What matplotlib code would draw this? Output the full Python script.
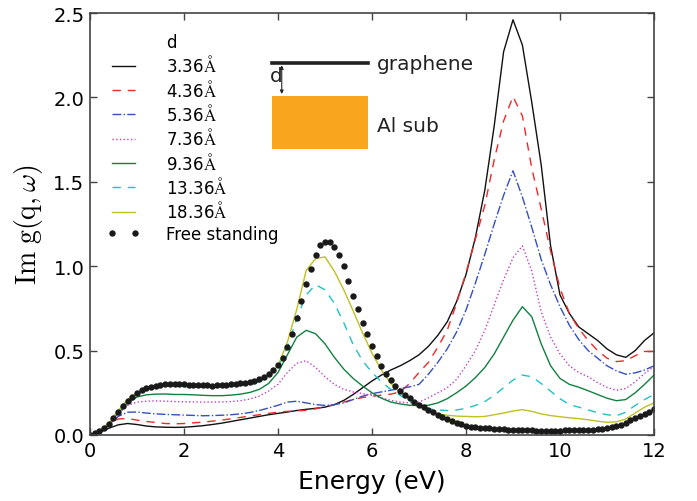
import numpy as np
import matplotlib
matplotlib.use("Agg")
import matplotlib.pyplot as plt
from matplotlib.patches import Rectangle

plt.rcParams["font.family"] = ["DejaVu Sans"]
plt.rcParams["mathtext.fontset"] = "cm"

# ── data ──────────────────────────────────────────────────────────────────────

energy = np.round(np.arange(0, 12.01, 0.2), 1)          # eV, curves
energy_fs = np.round(np.arange(0, 12.01, 0.1), 1)       # eV, free standing

g_336 = [0.0, 0.015, 0.04, 0.06, 0.068, 0.062, 0.053, 0.048, 0.046, 0.045,
         0.046, 0.05, 0.055, 0.062, 0.07, 0.08, 0.09, 0.1, 0.11, 0.12,
         0.128, 0.136, 0.145, 0.152, 0.158, 0.165, 0.18, 0.205, 0.24, 0.28,
         0.32, 0.355, 0.385, 0.41, 0.44, 0.475, 0.525, 0.59, 0.67, 0.79,
         0.95, 1.17, 1.45, 1.83, 2.27, 2.46, 2.31, 1.97, 1.6, 1.12,
         0.83, 0.72, 0.64, 0.6, 0.56, 0.51, 0.475, 0.46, 0.5, 0.56, 0.605]

g_436 = [0.0, 0.02, 0.055, 0.095, 0.098, 0.088, 0.08, 0.074, 0.068, 0.066,
         0.068, 0.072, 0.076, 0.082, 0.088, 0.096, 0.104, 0.112, 0.12, 0.128,
         0.135, 0.14, 0.143, 0.146, 0.155, 0.168, 0.18, 0.195, 0.21, 0.222,
         0.23, 0.236, 0.242, 0.255, 0.305, 0.37, 0.43, 0.52, 0.62, 0.78,
         0.96, 1.16, 1.36, 1.63, 1.86, 2.005, 1.89, 1.58, 1.34, 1.09,
         0.87, 0.72, 0.63, 0.56, 0.5, 0.455, 0.435, 0.44, 0.47, 0.495, 0.495]

g_536 = [0.0, 0.02, 0.06, 0.11, 0.135, 0.136, 0.13, 0.125, 0.122, 0.12,
         0.118, 0.116, 0.114, 0.115, 0.117, 0.12, 0.125, 0.133, 0.145, 0.16,
         0.176, 0.195, 0.2, 0.19, 0.18, 0.175, 0.18, 0.19, 0.21, 0.23,
         0.245, 0.255, 0.265, 0.275, 0.285, 0.3, 0.36, 0.43, 0.51, 0.61,
         0.74, 0.9, 1.07, 1.25, 1.42, 1.565, 1.41, 1.23, 1.04, 0.89,
         0.76, 0.65, 0.565, 0.5, 0.455, 0.41, 0.38, 0.36, 0.368, 0.385, 0.41]

g_736 = [0.0, 0.025, 0.065, 0.125, 0.175, 0.195, 0.2, 0.202, 0.2, 0.198,
         0.197, 0.196, 0.195, 0.195, 0.196, 0.198, 0.203, 0.213, 0.23, 0.26,
         0.3, 0.37, 0.425, 0.44, 0.4, 0.345, 0.3, 0.27, 0.255, 0.245,
         0.235, 0.22, 0.205, 0.195, 0.19, 0.195, 0.22, 0.25, 0.28, 0.33,
         0.41, 0.5, 0.62, 0.77, 0.92, 1.05, 1.12, 0.97, 0.73, 0.58,
         0.48, 0.41, 0.37, 0.345, 0.31, 0.282, 0.265, 0.275, 0.315, 0.365, 0.405]

g_936 = [0.0, 0.025, 0.065, 0.13, 0.19, 0.225, 0.238, 0.242, 0.243, 0.24,
         0.24, 0.238, 0.235, 0.233, 0.233, 0.236, 0.242, 0.252, 0.27, 0.305,
         0.37, 0.475, 0.58, 0.62, 0.6, 0.54, 0.46, 0.39, 0.335, 0.29,
         0.25, 0.218, 0.195, 0.184, 0.176, 0.174, 0.176, 0.19, 0.215, 0.25,
         0.29, 0.34, 0.4, 0.48, 0.58, 0.68, 0.76, 0.7, 0.54, 0.41,
         0.335, 0.3, 0.283, 0.262, 0.24, 0.218, 0.203, 0.21, 0.25, 0.3, 0.355]

g_1336 = [0.0, 0.025, 0.07, 0.145, 0.205, 0.245, 0.27, 0.283, 0.288, 0.29,
          0.287, 0.283, 0.283, 0.28, 0.282, 0.287, 0.293, 0.3, 0.315, 0.345,
          0.4, 0.52, 0.69, 0.83, 0.89, 0.86, 0.78, 0.665, 0.535, 0.44,
          0.37, 0.315, 0.27, 0.235, 0.2, 0.172, 0.155, 0.148, 0.145, 0.148,
          0.158, 0.175, 0.198, 0.235, 0.28, 0.325, 0.355, 0.345, 0.305, 0.26,
          0.215, 0.18, 0.165, 0.148, 0.132, 0.12, 0.114, 0.135, 0.175, 0.21, 0.24]

g_1836 = [0.0, 0.025, 0.07, 0.145, 0.21, 0.25, 0.28, 0.29, 0.297, 0.3,
          0.297, 0.293, 0.295, 0.29, 0.292, 0.297, 0.305, 0.31, 0.325, 0.355,
          0.41, 0.55, 0.745, 0.975, 1.045, 1.055, 0.97, 0.86, 0.735, 0.605,
          0.485, 0.385, 0.305, 0.255, 0.21, 0.175, 0.14, 0.125, 0.117, 0.112,
          0.11, 0.108, 0.11, 0.12, 0.13, 0.142, 0.15, 0.14, 0.125, 0.115,
          0.108, 0.102, 0.097, 0.09, 0.082, 0.075, 0.078, 0.095, 0.13, 0.165, 0.19]

g_free = [0.0, 0.01, 0.025, 0.04, 0.065, 0.1, 0.137, 0.172, 0.2, 0.228,
          0.247, 0.266, 0.28, 0.287, 0.292, 0.297, 0.3, 0.302, 0.303, 0.3,
          0.3, 0.298, 0.295, 0.297, 0.298, 0.295, 0.293, 0.295, 0.296, 0.298,
          0.3, 0.302, 0.306, 0.309, 0.312, 0.318, 0.33, 0.342, 0.36, 0.385,
          0.415, 0.455, 0.52, 0.6, 0.695, 0.795, 0.893, 0.983, 1.068, 1.125,
          1.145, 1.145, 1.115, 1.068, 1.0, 0.912, 0.825, 0.745, 0.665, 0.597,
          0.525, 0.47, 0.41, 0.361, 0.324, 0.292, 0.262, 0.239, 0.217, 0.197,
          0.18, 0.165, 0.148, 0.134, 0.12, 0.105, 0.092, 0.082, 0.072, 0.063,
          0.055, 0.05, 0.046, 0.043, 0.041, 0.039, 0.037, 0.036, 0.034, 0.032,
          0.031, 0.03, 0.029, 0.028, 0.027, 0.026, 0.026, 0.026, 0.026, 0.026,
          0.026, 0.027, 0.027, 0.027, 0.028, 0.029, 0.03, 0.032, 0.034, 0.037,
          0.041, 0.047, 0.054, 0.061, 0.072, 0.087, 0.1, 0.112, 0.124, 0.138,
          0.154]

labels = ["3.36", "4.36", "5.36", "7.36", "9.36", "13.36", "18.36"]
series = [g_336, g_436, g_536, g_736, g_936, g_1336, g_1836]

# colour / linestyle per separation
styles = [
    ("#111111", "-"),
    ("#f02828", (0, (6, 5))),
    ("#3450c0", "-."),
    ("#c040c0", ":"),
    ("#128040", "-"),
    ("#20c0c8", (0, (6, 5))),
    ("#c0c020", "-"),
]

# ── plot ──────────────────────────────────────────────────────────────────────

fig = plt.figure(figsize=(6.97, 5.02), dpi=100)
ax = fig.add_axes([0.1291, 0.1315, 0.8092, 0.8406])

ax.plot([], [], " ", label="d")
for lab, ys, (c, ls) in zip(labels, series, styles):
    ax.plot(energy, ys, color=c, linestyle=ls, lw=1.0,
            label=lab + r"$\mathrm{\AA}$")
ax.plot(energy_fs, g_free, "o", color="#1a1a1a", ms=4.6, mew=0,
        label="Free standing")

ax.set_xlim(0, 12)
ax.set_ylim(0, 2.5)
ax.set_xticks(range(0, 13, 2))
ax.set_yticks(np.arange(0, 2.51, 0.5))
ax.yaxis.set_major_formatter(matplotlib.ticker.FormatStrFormatter("%.1f"))
ax.tick_params(direction="in", length=5, width=1, top=True, right=True,
               labelsize=14, pad=4, color="#444444")
for sp in ax.spines.values():
    sp.set_color("#444444")
    sp.set_linewidth(1.2)

ax.set_xlabel("Energy (eV)", fontsize=18, labelpad=7)
ax.set_ylabel(r"$\mathrm{Im\ g(q,}\omega\mathrm{)}$", fontsize=20, labelpad=6)

leg = ax.legend(loc="upper left", bbox_to_anchor=(0.009, 0.98), frameon=False,
                fontsize=12, numpoints=2, handlelength=2.0, handletextpad=1.55,
                labelspacing=0.2, borderpad=0.2)

# sketch of graphene above the Al substrate
ax.plot([3.87, 5.91], [2.203, 2.203], color="#222222", lw=2.6)
ax.add_patch(Rectangle((3.87, 1.697), 2.04, 0.31, facecolor="#f9a51e",
                       edgecolor="none"))
ax.text(6.1, 2.203, "graphene", fontsize=14.5, va="center", ha="left",
        color="#222222")
ax.text(6.1, 1.836, "Al sub", fontsize=14.5, va="center", ha="left",
        color="#222222")
ax.text(3.82, 2.13, "d", fontsize=14.5, va="center", ha="left",
        color="#222222")
ax.annotate("", xy=(4.08, 2.19), xytext=(4.08, 2.02),
            arrowprops=dict(arrowstyle="<|-|>", lw=0.8, color="#222222",
                            mutation_scale=5, shrinkA=0, shrinkB=0))

fig.savefig("out.png", dpi=100)
